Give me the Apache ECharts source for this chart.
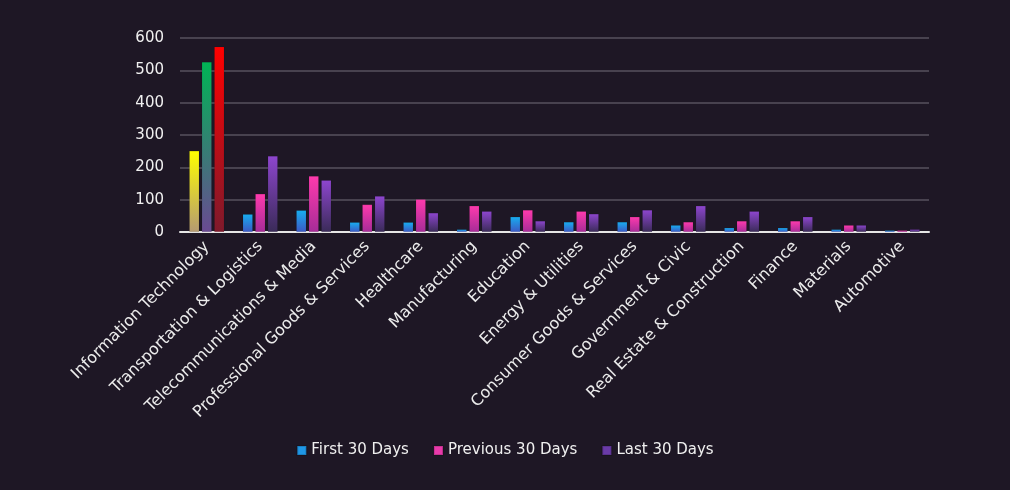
<!DOCTYPE html>
<html>
<head>
<meta charset="utf-8">
<script src="https://cdn.jsdelivr.net/npm/echarts@6/dist/echarts.min.js"></script>
<style>
html,body{margin:0;padding:0;background:#1e1725;}
#chart{width:1010px;height:490px;}
</style>
</head>
<body>
<div id="chart"></div>
<script>
var categories = ["Information Technology","Transportation & Logistics","Telecommunications & Media","Professional Goods & Services","Healthcare","Manufacturing","Education","Energy & Utilities","Consumer Goods & Services","Government & Civic","Real Estate & Construction","Finance","Materials","Automotive"];
var seriesNames = ["First 30 Days","Previous 30 Days","Last 30 Days"];
var first30 = [251, 55, 67, 30, 30, 8, 47, 31, 31, 21, 13, 13, 8, 5];
var previous30 = [526, 118, 173, 85, 101, 81, 68, 64, 47, 31, 34, 34, 21, 5];
var last30 = [573, 235, 160, 111, 59, 64, 34, 56, 68, 81, 64, 47, 21, 8];
var yTicks = [0, 100, 200, 300, 400, 500, 600];

function grad(top, bottom) {
  return new echarts.graphic.LinearGradient(0, 0, 0, 1, [
    {offset: 0, color: top},
    {offset: 1, color: bottom}
  ]);
}
var seriesColors = [
  grad('#17aef0', '#3c58c4'),
  grad('#ff3aad', '#a62c98'),
  grad('#8e46cf', '#3a2b58')
];
var legendColors = ['#1f97e6', '#e93aab', '#6a3ba8'];
var highlight = [
  grad('#ffff00', '#b49a72'),
  grad('#00b455', '#6a4a92'),
  grad('#ff0000', '#7e1a2c')
];
var datasets = [first30, previous30, last30];

var series = datasets.map(function (arr, si) {
  return {
    name: seriesNames[si],
    type: 'bar',
    barWidth: 10,
    barGap: '25%',
    data: arr.map(function (v, i) {
      if (i === 0) return {value: v, itemStyle: {color: highlight[si]}};
      return v;
    }),
    itemStyle: {color: seriesColors[si], borderColor: 'rgba(0,0,0,0.15)', borderWidth: 0.5}
  };
});

var chart = echarts.init(document.getElementById('chart'));
chart.setOption({
  backgroundColor: '#1e1725',
  animation: false,
  textStyle: {fontFamily: 'DejaVu Sans'},
  grid: {left: 180, right: 81, top: 38, bottom: 258},
  legend: {
    data: seriesNames.map(function (n, i) {
      return {name: n, itemStyle: {color: legendColors[i]}};
    }),
    bottom: 27,
    left: 'center',
    icon: 'rect',
    itemWidth: 9,
    itemHeight: 9,
    itemGap: 24,
    textStyle: {color: '#f0f0f0', fontSize: 15, fontFamily: 'DejaVu Sans'}
  },
  xAxis: {
    type: 'category',
    data: categories,
    axisLine: {lineStyle: {color: '#e6e6e6', width: 2}},
    axisTick: {show: false},
    axisLabel: {rotate: 45, color: '#ececec', fontSize: 16, interval: 0, margin: 12}
  },
  yAxis: {
    type: 'value',
    min: 0,
    max: 600,
    interval: 100,
    axisLine: {show: false},
    axisTick: {show: false},
    splitLine: {lineStyle: {color: '#48424f', width: 2}},
    axisLabel: {color: '#f0f0f0', fontSize: 15, margin: 16,
      formatter: function (v) { return yTicks.indexOf(v) >= 0 ? String(v) : ''; }}
  },
  series: series
});
</script>
</body>
</html>
